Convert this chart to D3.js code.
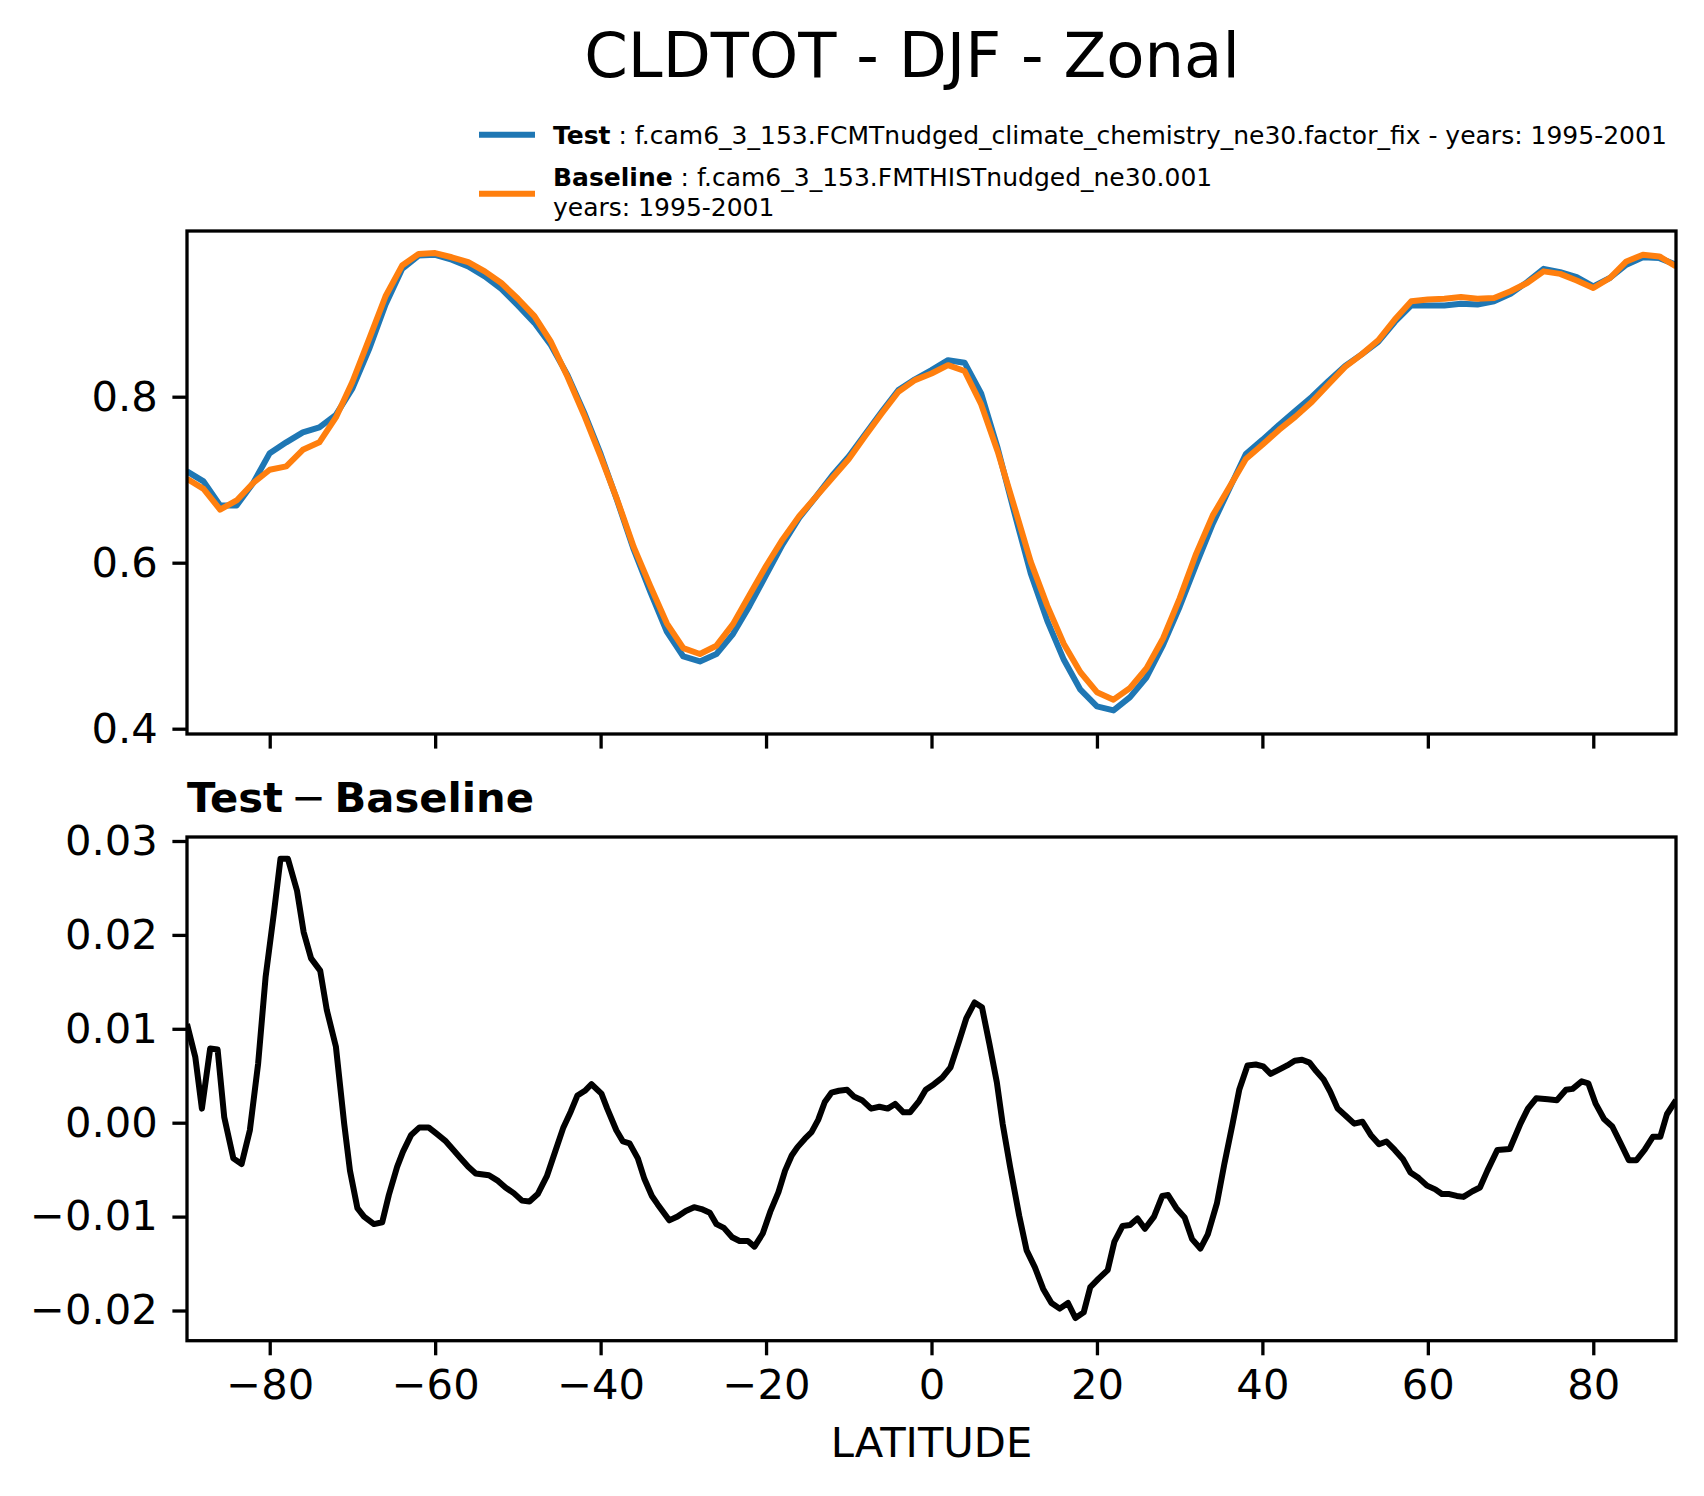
<!DOCTYPE html>
<html>
<head>
<meta charset="utf-8">
<script src="https://cdn.jsdelivr.net/npm/d3@7"></script>
<style>
body { margin: 0; background: #fff; }
text { font-family: "DejaVu Sans", sans-serif; }
</style>
</head>
<body>
<script>
// top panel: zonal means on a 2 degree latitude grid
const latTop = [
  -90, -88, -86, -84, -82, -80, -78, -76, -74, -72,
  -70, -68, -66, -64, -62, -60, -58, -56, -54, -52,
  -50, -48, -46, -44, -42, -40, -38, -36, -34, -32,
  -30, -28, -26, -24, -22, -20, -18, -16, -14, -12,
  -10, -8, -6, -4, -2, 0, 2, 4, 6, 8,
  10, 12, 14, 16, 18, 20, 22, 24, 26, 28,
  30, 32, 34, 36, 38, 40, 42, 44, 46, 48,
  50, 52, 54, 56, 58, 60, 62, 64, 66, 68,
  70, 72, 74, 76, 78, 80, 82, 84, 86, 88, 90
];
const baseline = [
  0.701, 0.689, 0.664, 0.675, 0.696, 0.712, 0.716, 0.736, 0.745, 0.775,
  0.818, 0.869, 0.921, 0.958, 0.972, 0.973, 0.968, 0.962, 0.951, 0.937,
  0.918, 0.897, 0.866, 0.824, 0.778, 0.728, 0.676, 0.619, 0.572, 0.527,
  0.497, 0.490, 0.500, 0.526, 0.561, 0.596, 0.628, 0.656, 0.679, 0.702,
  0.725, 0.753, 0.780, 0.806, 0.820, 0.828, 0.838, 0.831, 0.791, 0.734,
  0.668, 0.601, 0.548, 0.502, 0.468, 0.444, 0.435, 0.449, 0.473, 0.509,
  0.557, 0.611, 0.657, 0.691, 0.725, 0.742, 0.760, 0.776, 0.794, 0.815,
  0.836, 0.851, 0.868, 0.893, 0.915, 0.917, 0.918, 0.920, 0.918, 0.919,
  0.927, 0.937, 0.951, 0.948, 0.940, 0.931, 0.943, 0.963, 0.971, 0.969, 0.957
];
const test = [
  0.710, 0.698, 0.669, 0.669, 0.696, 0.732, 0.745, 0.757, 0.763, 0.778,
  0.810, 0.857, 0.911, 0.954, 0.970, 0.971, 0.965, 0.957, 0.945, 0.930,
  0.910, 0.889, 0.862, 0.826, 0.781, 0.731, 0.675, 0.616, 0.565, 0.517,
  0.487, 0.481, 0.490, 0.514, 0.548, 0.585, 0.622, 0.654, 0.679, 0.705,
  0.728, 0.755, 0.782, 0.808, 0.821, 0.832, 0.844, 0.841, 0.804, 0.738,
  0.661, 0.587, 0.530, 0.483, 0.447, 0.427, 0.422, 0.438, 0.462, 0.501,
  0.547, 0.598, 0.647, 0.689, 0.731, 0.748, 0.766, 0.783, 0.800, 0.819,
  0.837, 0.851, 0.866, 0.890, 0.910, 0.910, 0.910, 0.912, 0.911, 0.915,
  0.924, 0.938, 0.954, 0.950, 0.944, 0.933, 0.943, 0.959, 0.968, 0.967, 0.959
];

// bottom panel: test - baseline
const diffLat = [
  -90, -89, -88.2, -87.2, -86.3, -85.5, -84.4, -83.4,
  -82.4, -81.4, -80.5, -79.5, -78.7, -77.8, -76.7, -75.9,
  -75, -73.9, -73.1, -72, -71, -70.3, -69.4, -68.6,
  -67.4, -66.4, -65.6, -64.6, -63.9, -62.9, -61.9, -60.8,
  -59.8, -58.8, -58, -57, -56, -55.1, -53.5, -52.4,
  -51.5, -50.5, -49.5, -48.6, -47.6, -46.5, -45.5, -44.5,
  -43.6, -42.8, -41.9, -41.1, -39.9, -39.2, -38.1, -37.3,
  -36.5, -35.5, -34.7, -33.8, -33.1, -31.7, -30.7, -29.7,
  -28.7, -27.8, -26.8, -26, -25.1, -24.1, -23.2, -22.2,
  -21.4, -20.4, -19.5, -18.5, -17.7, -16.9, -16.2, -15.3,
  -14.5, -13.7, -12.9, -12.1, -11.2, -10.2, -9.4, -8.4,
  -7.3, -6.3, -5.3, -4.4, -3.4, -2.6, -1.5, -0.7,
  0.3, 1.3, 2.3, 3.3, 4.2, 5.2, 6.1, 7.0,
  7.9, 8.6, 9.5, 10.6, 11.5, 12.5, 13.5, 14.5,
  15.5, 16.5, 17.4, 18.4, 19.2, 20.2, 21.3, 22.1,
  23.1, 24.0, 24.9, 25.8, 26.9, 27.9, 28.6, 29.6,
  30.6, 31.5, 32.5, 33.4, 34.5, 35.4, 36.4, 37.2,
  38.2, 39.2, 40.1, 41.0, 41.9, 43.0, 43.9, 44.8,
  45.7, 46.5, 47.4, 48.2, 49.1, 50.0, 51.1, 52.1,
  53.1, 54.1, 55.0, 56.0, 57.0, 57.9, 58.9, 59.9,
  60.9, 61.7, 62.6, 63.5, 64.3, 65.4, 66.3, 67.2,
  68.4, 69.9, 71.2, 72.1, 73.1, 74.5, 75.6, 76.7,
  77.5, 78.6, 79.4, 80.3, 81.3, 82.3, 83.2, 84.3,
  85.2, 86.2, 87.2, 88.1, 88.9, 90
];
const diffVal = [
  0.0105, 0.0070, 0.0015, 0.0079, 0.0078, 0.0006, -0.0038, -0.0044,
  -0.0008, 0.0063, 0.0155, 0.0223, 0.0281, 0.0281, 0.0247, 0.0203,
  0.0175, 0.0162, 0.0120, 0.0081, -0.0001, -0.0051, -0.0091, -0.0100,
  -0.0108, -0.0106, -0.0077, -0.0047, -0.0031, -0.0013, -0.0005, -0.0005,
  -0.0012, -0.0019, -0.0027, -0.0037, -0.0047, -0.0054, -0.0056, -0.0062,
  -0.0069, -0.0075, -0.0083, -0.0084, -0.0076, -0.0057, -0.0031, -0.0005,
  0.0012, 0.0029, 0.0034, 0.0041, 0.0031, 0.0015, -0.0008, -0.0020,
  -0.0022, -0.0038, -0.0060, -0.0078, -0.0087, -0.0104, -0.0100, -0.0094,
  -0.0090, -0.0092, -0.0096, -0.0108, -0.0112, -0.0122, -0.0126, -0.0126,
  -0.0132, -0.0118, -0.0095, -0.0074, -0.0051, -0.0035, -0.0026, -0.0017,
  -0.0010, 0.0003, 0.0022, 0.0032, 0.0034, 0.0035, 0.0028, 0.0024,
  0.0015, 0.0017, 0.0015, 0.0020, 0.0011, 0.0011, 0.0023, 0.0035,
  0.0041, 0.0048, 0.0059, 0.0086, 0.0111, 0.0128, 0.0123, 0.0084,
  0.0043, -0.0001, -0.0047, -0.0099, -0.0136, -0.0154, -0.0177, -0.0192,
  -0.0198, -0.0192, -0.0208, -0.0202, -0.0175, -0.0166, -0.0157, -0.0127,
  -0.0110, -0.0109, -0.0102, -0.0113, -0.0100, -0.0078, -0.0077, -0.0091,
  -0.0101, -0.0124, -0.0134, -0.0119, -0.0086, -0.0044, -0.0001, 0.0035,
  0.0061, 0.0062, 0.0060, 0.0052, 0.0056, 0.0061, 0.0066, 0.0067,
  0.0064, 0.0055, 0.0046, 0.0033, 0.0015, 0.0008, -0.0001, 0.0001,
  -0.0013, -0.0023, -0.0020, -0.0029, -0.0039, -0.0053, -0.0059, -0.0067,
  -0.0071, -0.0076, -0.0076, -0.0078, -0.0079, -0.0073, -0.0069, -0.0051,
  -0.0029, -0.0028, -0.0001, 0.0015, 0.0026, 0.0025, 0.0024, 0.0035,
  0.0036, 0.0044, 0.0042, 0.0020, 0.0004, -0.0004, -0.0020, -0.0040,
  -0.0040, -0.0029, -0.0015, -0.0015, 0.0009, 0.0024
];

const latTicks = [-80, -60, -40, -20, 0, 20, 40, 60, 80];
const topTicks = [0.4, 0.6, 0.8];
const diffTicks = [-0.02, -0.01, 0, 0.01, 0.02, 0.03];

const W = 1704, H = 1496;
const fs = 41.7,       // 10pt at 300dpi
    tickLen = 14.6,
    spine = 3.3;

const svg = d3.select('body').append('svg')
    .attr('width', W)
    .attr('height', H);
svg.append('rect').attr('width', W).attr('height', H).attr('fill', 'white');

const left = 187, right = 1676,
    top1 = 231, bot1 = 734,
    top2 = 837, bot2 = 1340.7;

const x = d3.scaleLinear().domain([-90, 90]).range([left, right]);
const y1 = d3.scaleLinear().domain([0.39361, 0.99964]).range([bot1, top1]);
const y2 = d3.scaleLinear().domain([-0.023216, 0.030426]).range([bot2, top2]);

// clip paths for both panels
const defs = svg.append('defs');
defs.append('clipPath').attr('id', 'clip1')
    .append('rect').attr('x', left).attr('y', top1).attr('width', right - left).attr('height', bot1 - top1);
defs.append('clipPath').attr('id', 'clip2')
    .append('rect').attr('x', left).attr('y', top2).attr('width', right - left).attr('height', bot2 - top2);

function styleAxis(g) {
    g.attr('font-family', '"DejaVu Sans", sans-serif').attr('font-size', fs);
    g.select('.domain').remove();
    g.selectAll('.tick line').attr('stroke', 'black').attr('stroke-width', spine);
    g.selectAll('.tick text').attr('fill', 'black');
}

// top panel axes
svg.append('g')
    .attr('transform', 'translate(' + left + ',0)')
    .call(d3.axisLeft(y1).tickValues(topTicks).tickSize(tickLen).tickPadding(tickLen)
        .tickFormat(d3.format('.1f')))
    .call(styleAxis);
svg.append('g')
    .attr('transform', 'translate(0,' + bot1 + ')')
    .call(d3.axisBottom(x).tickValues(latTicks).tickSize(tickLen).tickFormat(''))
    .call(styleAxis);

// bottom panel axes
svg.append('g')
    .attr('transform', 'translate(' + left + ',0)')
    .call(d3.axisLeft(y2).tickValues(diffTicks).tickSize(tickLen).tickPadding(tickLen)
        .tickFormat(d3.format('.2f')))
    .call(styleAxis);
svg.append('g')
    .attr('transform', 'translate(0,' + bot2 + ')')
    .call(d3.axisBottom(x).tickValues(latTicks).tickSize(tickLen).tickPadding(tickLen)
        .tickFormat(d3.format('d')))
    .call(styleAxis);

// lines
const lineTop = vals => d3.line()
    .x((d, i) => x(latTop[i]))
    .y(d => y1(d))(vals);

const p1 = svg.append('g').attr('clip-path', 'url(#clip1)');
p1.append('path')
    .attr('d', lineTop(test))
    .attr('fill', 'none').attr('stroke', '#1f77b4').attr('stroke-width', 6)
    .attr('stroke-linejoin', 'round');
p1.append('path')
    .attr('d', lineTop(baseline))
    .attr('fill', 'none').attr('stroke', '#ff7f0e').attr('stroke-width', 6)
    .attr('stroke-linejoin', 'round');

const n = Math.min(diffLat.length, diffVal.length);
const diffLine = d3.line()
    .x(i => x(diffLat[i]))
    .y(i => y2(diffVal[i]));
svg.append('g').attr('clip-path', 'url(#clip2)')
    .append('path')
    .attr('d', diffLine(d3.range(n)))
    .attr('fill', 'none').attr('stroke', 'black').attr('stroke-width', 6)
    .attr('stroke-linejoin', 'round');

// frames
[[top1, bot1], [top2, bot2]].forEach(([t, b]) => {
    svg.append('rect')
        .attr('x', left).attr('y', t)
        .attr('width', right - left).attr('height', b - t)
        .attr('fill', 'none').attr('stroke', 'black').attr('stroke-width', spine);
});

// titles
svg.append('text')
    .attr('x', 912).attr('y', 77)
    .attr('text-anchor', 'middle')
    .attr('font-size', 62.5)
    .text('CLDTOT - DJF - Zonal');

const sub = svg.append('text')
    .attr('x', left).attr('y', 812)
    .attr('font-size', fs)
    .style('white-space', 'pre');
sub.append('tspan').attr('font-weight', 'bold').text('Test');
sub.append('tspan').text('\u2009\u2212\u2009');
sub.append('tspan').attr('font-weight', 'bold').text('Baseline');

svg.append('text')
    .attr('x', (left + right) / 2).attr('y', 1456.7)
    .attr('text-anchor', 'middle')
    .attr('font-size', fs)
    .text('LATITUDE');

// legend
const legFs = 25;
const legend = [
    { color: '#1f77b4', y: 134.7, name: 'Test',
      lines: [' : f.cam6_3_153.FCMTnudged_climate_chemistry_ne30.factor_fix - years: 1995-2001'], base: 144.3 },
    { color: '#ff7f0e', y: 193.7, name: 'Baseline',
      lines: [' : f.cam6_3_153.FMTHISTnudged_ne30.001', 'years: 1995-2001'], base: 185.7 }
];
legend.forEach(d => {
    svg.append('line')
        .attr('x1', 479).attr('x2', 535)
        .attr('y1', d.y).attr('y2', d.y)
        .attr('stroke', d.color).attr('stroke-width', 6);
    const t = svg.append('text')
        .attr('x', 553).attr('y', d.base)
        .attr('font-size', legFs)
        .style('white-space', 'pre');
    t.append('tspan').attr('font-weight', 'bold').text(d.name);
    t.append('tspan').text(d.lines[0]);
    if (d.lines[1]) {
        svg.append('text')
            .attr('x', 553).attr('y', d.base + 30.3)
            .attr('font-size', legFs)
            .text(d.lines[1]);
    }
});
</script>
</body>
</html>
